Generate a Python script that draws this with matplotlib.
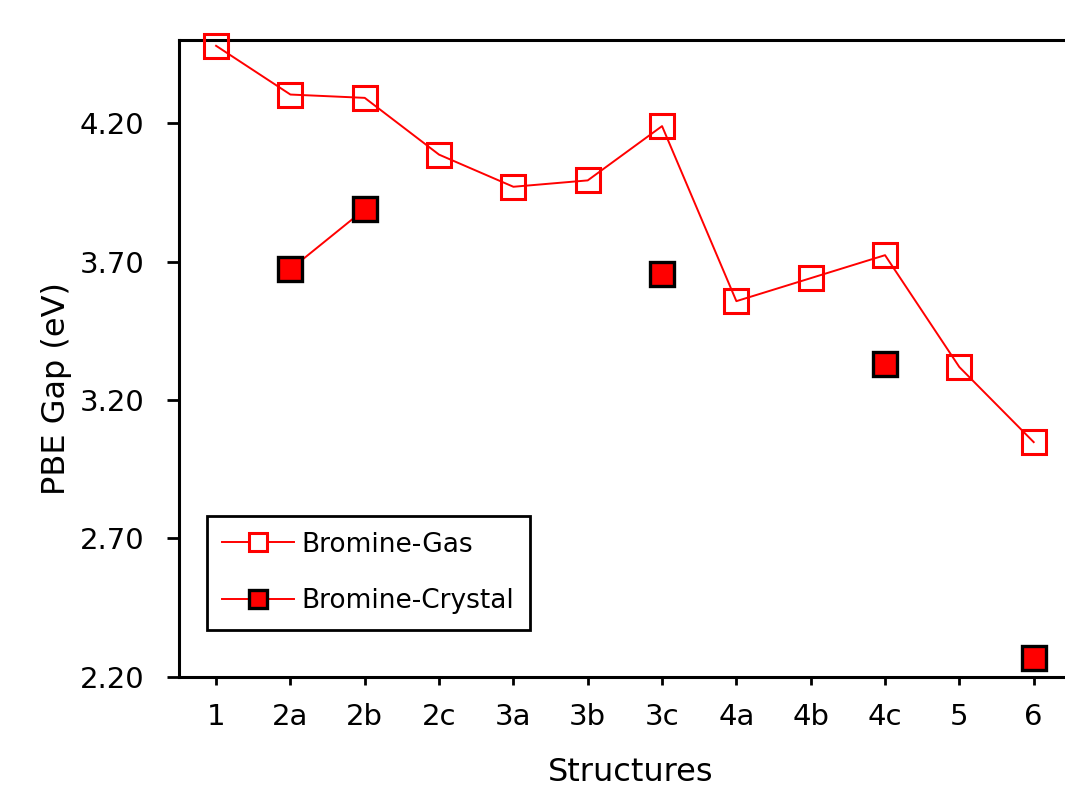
import numpy as np
import matplotlib
matplotlib.use("Agg")
import matplotlib.pyplot as plt
from matplotlib.ticker import FormatStrFormatter

# --- Данные: ширина запрещённой зоны PBE по структурам ---
structures = ["1", "2a", "2b", "2c", "3a", "3b", "3c", "4a", "4b", "4c", "5", "6"]
gap_gas = [4.479, 4.303, 4.291, 4.086, 3.970, 3.993, 4.189,
           3.557, 3.640, 3.723, 3.319, 3.048]
gap_crystal = [np.nan, 3.672, 3.889, np.nan, np.nan, np.nan, 3.654,
               np.nan, np.nan, 3.330, np.nan, 2.270]
y_ticks = [2.20, 2.70, 3.20, 3.70, 4.20]

plt.rcParams["font.family"] = ["DejaVu Sans"]

fig = plt.figure(figsize=(10.65, 7.87), dpi=100)
ax = fig.add_axes([0.168, 0.1398, 0.8375, 0.8094])

x = np.arange(len(structures))

ax.plot(x, gap_gas, color="red", linewidth=1.4, marker="s", markersize=17,
        markerfacecolor="none", markeredgecolor="red", markeredgewidth=2.2,
        label="Bromine-Gas", clip_on=False, zorder=4)
ax.plot(x, gap_crystal, color="red", linewidth=1.4, marker="s", markersize=17,
        markerfacecolor="red", markeredgecolor="black", markeredgewidth=2.4,
        label="Bromine-Crystal", clip_on=False, zorder=4)

ax.set_xlim(-0.5, len(structures) - 0.5)
ax.set_ylim(2.2, 4.5)
ax.set_xticks(x)
ax.set_xticklabels(structures)
ax.set_yticks(y_ticks)
ax.yaxis.set_major_formatter(FormatStrFormatter("%.2f"))

ax.tick_params(axis="y", direction="out", length=9, width=2, labelsize=21, pad=16)
ax.tick_params(axis="x", direction="out", length=6, width=2, labelsize=21, pad=13)

for side in ["left", "bottom", "top"]:
    ax.spines[side].set_linewidth(2.2)
ax.spines["right"].set_visible(False)

ax.set_ylabel("PBE Gap (eV)", fontsize=23)
ax.yaxis.set_label_coords(-0.120, 0.452)
ax.set_xlabel("Structures", fontsize=23, va="top")
ax.xaxis.set_label_coords(0.506, -0.125)

leg = ax.legend(loc="upper left", bbox_to_anchor=(0.031, 0.253), borderaxespad=0,
                fontsize=19, frameon=True, fancybox=False, framealpha=1,
                markerscale=0.75, handlelength=2.7, handletextpad=0.3,
                labelspacing=1.15, borderpad=0.6)
leg.get_frame().set_edgecolor("black")
leg.get_frame().set_linewidth(2)
leg.legend_handles[0].set_markerfacecolor("white")

fig.savefig("out.png", dpi=100)
